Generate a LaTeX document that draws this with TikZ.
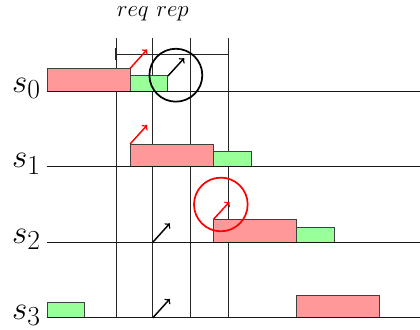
\documentclass[tikz,border=0pt]{standalone}
\usepackage{amsmath}
\usepackage{amssymb}
\usepackage{tikz}
\usetikzlibrary{arrows, positioning, calc}

\begin{document}
\begin{tikzpicture}[
  reqbox/.style={draw=black!75, fill=red!40, line width=0.7pt},
  repbox/.style={draw=black!75, fill=green!40, line width=0.7pt},
  msg/.style={->, line width=1.1pt},
  spot/.style={line width=1.3pt}]
\useasboundingbox (-1.243,-0.317) rectangle (9.87,8.41);
\foreach \t in {1.83,2.8,3.81,4.81} \draw [black!85, line width=0.75pt] (\t,0) -- (\t,7.4);
\draw [black!85, line width=0.75pt] (1.83,6.98) -- (4.81,6.98);
\foreach \t in {1.83,4.81} \draw [black!85, line width=1pt] (\t,6.83) -- (\t,7.14);
\node (lbl) at (2.8,8.04) {\fontsize{19}{23}\selectfont $req\ rep$};
\draw [reqbox] (0,6) rectangle (2.2,6.6);
\draw [repbox] (2.2,6) rectangle (3.2,6.4);
\draw [reqbox] (2.2,4) rectangle (4.4,4.6);
\draw [repbox] (4.4,4) rectangle (5.4,4.4);
\draw [reqbox] (4.4,2) rectangle (6.6,2.6);
\draw [repbox] (6.6,2) rectangle (7.6,2.4);
\draw [repbox] (0,0) rectangle (1,0.4);
\draw [reqbox] (6.6,0) rectangle (8.8,0.6);
\foreach \y/\i in {6/0,4/1,2/2,0/3} {
  \draw [black!90, line width=0.75pt] (0,\y) -- (9.87,\y);
  \node [anchor=east, inner sep=0pt] (s\i) at (-0.16,\y+0.07) {\Huge $s_\i$};
}
\draw [msg, red] (2.2,6.6) -- ++(0.45,0.5);
\draw [msg] (3.2,6.4) -- ++(0.43,0.47);
\draw [spot] (3.41,6.42) circle [radius=0.7cm];
\draw [msg, red] (2.2,4.6) -- ++(0.45,0.5);
\draw [msg, red] (4.4,2.6) -- ++(0.43,0.47);
\draw [spot, red] (4.6,3.0) circle [radius=0.71cm];
\draw [msg] (2.8,2) -- ++(0.45,0.5);
\draw [msg] (2.8,0) -- ++(0.45,0.5);
\end{tikzpicture}
\end{document}
